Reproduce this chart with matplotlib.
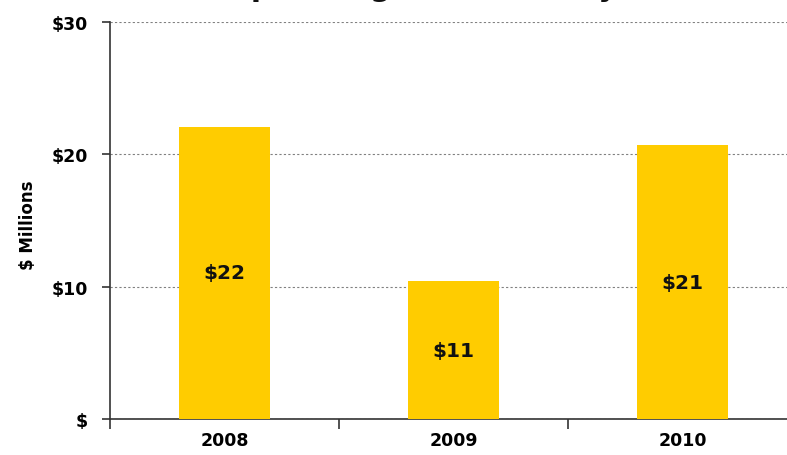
import numpy as np
import matplotlib.pyplot as plt

plt.rcParams['font.family'] = ['DejaVu Sans']

years = ['2008', '2009', '2010']
values = [22.1, 10.4, 20.7]
bar_labels = ['$22', '$11', '$21']
yticks = [0, 10, 20, 30]
ytick_labels = ['$', '$10', '$20', '$30']
title = 'Operating Cash Flow by Year'

fig = plt.figure(figsize=(7.87, 4.56), dpi=100)
ax = fig.add_axes([110 / 787, 36 / 456, 687 / 787, 397 / 456])

x = np.arange(len(years))
ax.bar(x, values, width=0.4, color='#FFCC00', zorder=3)
for xi, v, lab in zip(x, values, bar_labels):
    ax.text(xi, v / 2, lab, ha='center', va='center', fontsize=14.5,
            fontweight='bold', color='#111111', zorder=4)

ax.set_xlim(-0.5, len(years) - 0.5)
ax.set_ylim(0, 30)
ax.set_yticks(yticks)
ax.set_yticklabels(ytick_labels, fontsize=12.5, fontweight='bold')
ax.set_xticks(x)
ax.set_xticklabels(years, fontsize=12.5, fontweight='bold')
ax.tick_params(axis='x', length=0, pad=9)
ax.set_xticks(np.arange(len(years) + 1) - 0.5, minor=True)
ax.tick_params(axis='x', which='minor', length=7, width=1.2, color='#333333')
ax.tick_params(axis='y', length=6, width=1.2, color='#333333', pad=10)

ax.grid(axis='y', linestyle=(0, (2, 2)), color='#808080', linewidth=0.8, zorder=0)
ax.spines['top'].set_visible(False)
ax.spines['right'].set_visible(False)
for s in ['left', 'bottom']:
    ax.spines[s].set_color('#333333')
    ax.spines[s].set_linewidth(1.2)

ax.set_ylabel('$ Millions', fontsize=12, fontweight='bold')
ax.yaxis.set_label_coords(-73 / 687, 0.49)

fig.text(226 / 787, 1.009, title, ha='left', va='baseline', fontsize=21,
         fontweight='bold', color='#111111')

fig.savefig('out.png', dpi=100)
